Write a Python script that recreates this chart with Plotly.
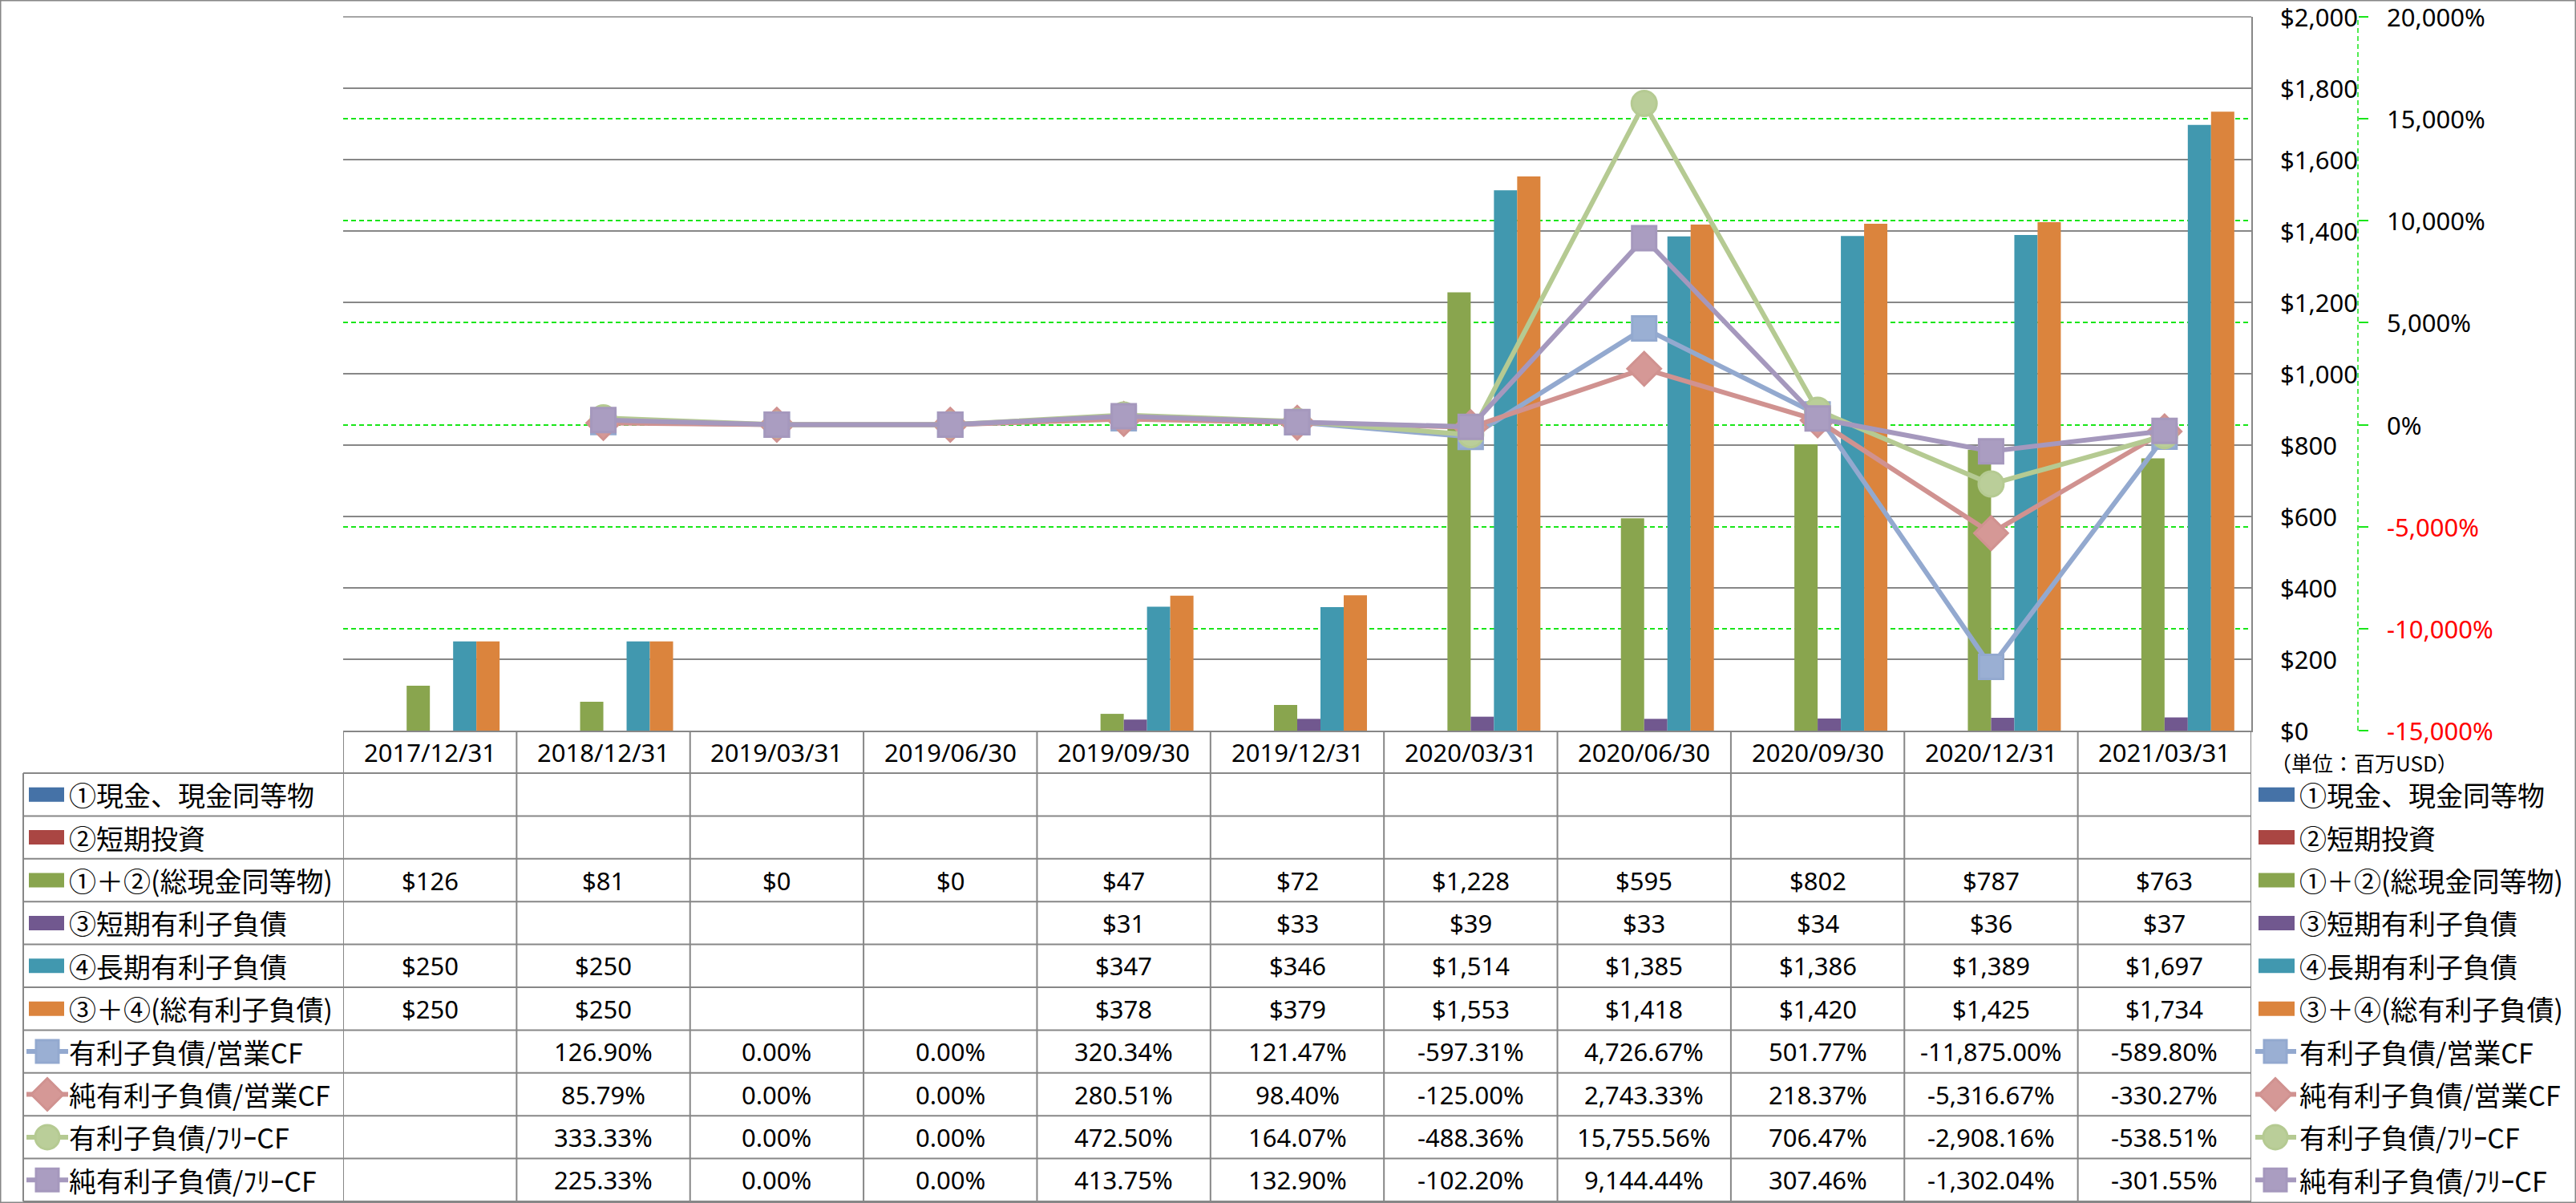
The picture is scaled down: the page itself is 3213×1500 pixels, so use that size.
import plotly.graph_objects as go

# ---------------- data ----------------
dates = ["2017/12/31", "2018/12/31", "2019/03/31", "2019/06/30", "2019/09/30", "2019/12/31",
         "2020/03/31", "2020/06/30", "2020/09/30", "2020/12/31", "2021/03/31"]
cash = [None] * 11                      # ①現金、現金同等物
short_inv = [None] * 11                 # ②短期投資
total_cash = [126, 81, 0, 0, 47, 72, 1228, 595, 802, 787, 763]
short_debt = [None, None, None, None, 31, 33, 39, 33, 34, 36, 37]
long_debt = [250, 250, None, None, 347, 346, 1514, 1385, 1386, 1389, 1697]
total_debt = [250, 250, None, None, 378, 379, 1553, 1418, 1420, 1425, 1734]

debt_ocf = [None, 126.90, 0.00, 0.00, 320.34, 121.47, -597.31, 4726.67, 501.77, -11875.00, -589.80]
netdebt_ocf = [None, 85.79, 0.00, 0.00, 280.51, 98.40, -125.00, 2743.33, 218.37, -5316.67, -330.27]
debt_fcf = [None, 333.33, 0.00, 0.00, 472.50, 164.07, -488.36, 15755.56, 706.47, -2908.16, -538.51]
netdebt_fcf = [None, 225.33, 0.00, 0.00, 413.75, 132.90, -102.20, 9144.44, 307.46, -1302.04, -301.55]

bar_names = ["①現金、現金同等物", "②短期投資", "①＋②(総現金同等物)",
             "③短期有利子負債", "④長期有利子負債", "③＋④(総有利子負債)"]
line_names = ["有利子負債/営業CF", "純有利子負債/営業CF", "有利子負債/ﾌﾘｰCF", "純有利子負債/ﾌﾘｰCF"]
y1_ticks = list(range(0, 2001, 200))
y2_ticks = list(range(-15000, 20001, 5000))
unit_label = "（単位：百万USD）"

# ---------------- style ----------------
W, H = 3213, 1500
PX_L, PX_R = 428, 2808
PY_T, PY_B = 21, 911
HEADER_B = 964
ROW_H = 53.4
LABEL_L = 29
Y1_LABEL_X = 2842
Y2_AXIS_X = 2941
Y2_LABEL_X = 2975
GRID = "#878787"
GREEN_GRID = "#19E619"
LATIN = "Noto Sans, Noto Sans CJK JP"
CJK = "Noto Sans CJK JP"

bar_colors = ["#4572A7", "#AA4643", "#89A54E", "#71588F", "#4198AF", "#DB843D"]
line_colors = ["#93A9CF", "#D09290", "#B5CA92", "#A598BD"]
marker_fill = ["#9AAFD3", "#D59896", "#BACE99", "#AA9DC1"]
symbols = ["square", "diamond", "circle", "square"]
msizes = [30, 32, 31, 30]


def px(x):
    return x / W


def py(y):
    return 1 - y / H


fig = go.Figure()

bar_series = [cash, short_inv, total_cash, short_debt, long_debt, total_debt]
BW = 0.134
for i, (name, vals) in enumerate(zip(bar_names, bar_series)):
    fig.add_trace(go.Bar(x=dates, y=vals, name=name, marker_color=bar_colors[i],
                         marker_line_width=0, width=BW, offset=-0.402 + i * BW,
                         yaxis="y", showlegend=False))

line_series = [debt_ocf, netdebt_ocf, debt_fcf, netdebt_fcf]
for i, (name, vals) in enumerate(zip(line_names, line_series)):
    fig.add_trace(go.Scatter(x=dates, y=vals, name=name, yaxis="y2", mode="lines+markers",
                             line=dict(color=line_colors[i], width=6),
                             marker=dict(symbol=symbols[i], size=msizes[i], color=marker_fill[i],
                                         line=dict(color=line_colors[i], width=3)),
                             connectgaps=False, showlegend=False))

shapes = []
annotations = []

# top primary gridline (sits on the plot-area edge, so draw it unclipped)
shapes.append(dict(type="line", xref="paper", yref="paper", x0=px(PX_L), x1=px(PX_R),
                   y0=py(PY_T), y1=py(PY_T), line=dict(color=GRID, width=1.5)))

# special gray dashed secondary gridlines at +/-10000
for v in (10000, -10000):
    shapes.append(dict(type="line", xref="paper", yref="y2", x0=px(PX_L), x1=px(PX_R), y0=v, y1=v,
                       line=dict(color="#A6A6A6", width=1.5, dash="6px,4px"), layer="below"))

# dashed secondary axis line
shapes.append(dict(type="line", xref="paper", yref="paper", x0=px(Y2_AXIS_X), x1=px(Y2_AXIS_X),
                   y0=py(PY_B), y1=py(PY_T), line=dict(color=GREEN_GRID, width=1.5, dash="6px,4px")))

# axis tick labels
for v in y1_ticks:
    annotations.append(dict(x=px(Y1_LABEL_X), xref="paper", y=v, yref="y", text="$" + format(v, ",d"),
                            showarrow=False, font=dict(family=LATIN, size=31, color="black"),
                            xanchor="left", yanchor="middle"))
for v in y2_ticks:
    annotations.append(dict(x=px(Y2_LABEL_X), xref="paper", y=v, yref="y2", text=format(v, ",d") + "%",
                            showarrow=False,
                            font=dict(family=LATIN, size=31, color="#FF0000" if v < 0 else "black"),
                            xanchor="left", yanchor="middle"))

# table grid
n_rows = len(bar_names) + len(line_names)
for k in range(n_rows + 1):
    yy = HEADER_B + k * ROW_H
    shapes.append(dict(type="line", xref="paper", yref="paper", x0=px(LABEL_L), x1=px(PX_R),
                       y0=py(yy), y1=py(yy), line=dict(color=GRID, width=2)))
shapes.append(dict(type="line", xref="paper", yref="paper", x0=px(LABEL_L), x1=px(LABEL_L),
                   y0=py(HEADER_B), y1=py(HEADER_B + n_rows * ROW_H), line=dict(color=GRID, width=2)))
for i in range(len(dates) + 1):
    shapes.append(dict(type="line", xref="x", yref="paper", x0=i - 0.5, x1=i - 0.5,
                       y0=py(PY_B), y1=py(HEADER_B + n_rows * ROW_H), line=dict(color=GRID, width=2)))

# header labels
for d in dates:
    annotations.append(dict(x=d, xref="x", y=py((PY_B + HEADER_B) / 2), yref="paper", text=d,
                            showarrow=False, font=dict(family=LATIN, size=31, color="black"),
                            xanchor="center", yanchor="middle"))


def fmt_money(v):
    return "$" + format(v, ",.0f")


def fmt_pct(v):
    return format(v, ",.2f") + "%"


rows = [(s, fmt_money) for s in bar_series] + [(s, fmt_pct) for s in line_series]
for r, (vals, f) in enumerate(rows):
    cy = HEADER_B + (r + 0.5) * ROW_H
    for d, v in zip(dates, vals):
        if v is not None:
            annotations.append(dict(x=d, xref="x", y=py(cy), yref="paper", text=f(v), showarrow=False,
                                    font=dict(family=LATIN, size=31, color="black"),
                                    xanchor="center", yanchor="middle"))


def legend_key(r, swatch_x0, swatch_x1, line_x0, line_x1, marker_cx, text_x):
    cy = HEADER_B + (r + 0.5) * ROW_H
    if r < len(bar_names):
        shapes.append(dict(type="rect", xref="paper", yref="paper", x0=px(swatch_x0), x1=px(swatch_x1),
                           y0=py(cy + 9), y1=py(cy - 9), fillcolor=bar_colors[r], line=dict(width=0)))
        name = bar_names[r]
    else:
        j = r - len(bar_names)
        shapes.append(dict(type="line", xref="paper", yref="paper", x0=px(line_x0), x1=px(line_x1),
                           y0=py(cy), y1=py(cy), line=dict(color=line_colors[j], width=6)))
        common = dict(xref="paper", yref="paper", xsizemode="pixel", ysizemode="pixel",
                      xanchor=px(marker_cx), yanchor=py(cy), fillcolor=marker_fill[j],
                      line=dict(color=line_colors[j], width=3))
        if symbols[j] == "square":
            shapes.append(dict(type="rect", x0=-14, x1=14, y0=-14, y1=14, **common))
        elif symbols[j] == "circle":
            shapes.append(dict(type="circle", x0=-15, x1=15, y0=-15, y1=15, **common))
        else:
            shapes.append(dict(type="path", path="M0,-20L20,0L0,20L-20,0Z", **common))
        name = line_names[j]
    annotations.append(dict(x=px(text_x), xref="paper", y=py(cy), yref="paper", text=name,
                            showarrow=False, font=dict(family=CJK, size=34, color="black"),
                            xanchor="left", yanchor="middle"))


for r in range(n_rows):
    legend_key(r, 36, 80, 33, 85, 59, 84)
    legend_key(r, 2817, 2862, 2813, 2864, 2838, 2866)

annotations.append(dict(x=px(2830), xref="paper", y=py(950), yref="paper", text=unit_label,
                        showarrow=False, font=dict(family=CJK, size=26, color="black"),
                        xanchor="left", yanchor="middle"))

# chart border
shapes.append(dict(type="rect", xref="paper", yref="paper", x0=0, x1=1, y0=0, y1=1,
                   line=dict(color=GRID, width=3), fillcolor="rgba(0,0,0,0)"))

fig.update_layout(
    width=W, height=H, autosize=False,
    margin=dict(l=0, r=0, t=0, b=0, pad=0, autoexpand=False),
    paper_bgcolor="white", plot_bgcolor="white",
    barmode="overlay",
    showlegend=False,
    xaxis=dict(type="category", domain=[px(PX_L), px(PX_R)], showticklabels=False, ticks="",
               showgrid=False, showline=True, linecolor=GRID, linewidth=2, zeroline=False,
               range=[-0.5, len(dates) - 0.5], automargin=False),
    yaxis=dict(domain=[py(PY_B), py(PY_T)], range=[0, 2000], side="right", anchor="x",
               tickvals=y1_ticks, showticklabels=False,
               showgrid=True, gridcolor=GRID, gridwidth=1.5, zeroline=False,
               showline=True, linecolor=GRID, linewidth=2, ticks="", automargin=False),
    yaxis2=dict(overlaying="y", anchor="free", position=px(Y2_AXIS_X), side="right",
                range=[-15000, 20000], tickvals=y2_ticks, showticklabels=False,
                showgrid=True, gridcolor=GREEN_GRID, gridwidth=1.5, griddash="6px,4px",
                zeroline=False, showline=False, ticks="outside", ticklen=12, tickcolor=GREEN_GRID,
                tickwidth=1.5, automargin=False),
    shapes=shapes,
    annotations=annotations,
)

fig.write_html("out.html", config={"responsive": False, "displayModeBar": False},
               post_script="document.body.style.margin='0px';")
